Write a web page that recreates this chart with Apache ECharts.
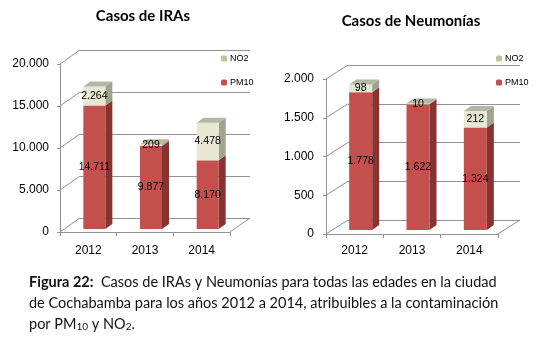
<!DOCTYPE html>
<html>
<head>
<meta charset="utf-8">
<title>Casos de IRAs y Neumonías</title>
<script src="https://cdn.jsdelivr.net/npm/echarts@6/dist/echarts.min.js"></script>
<style>
html, body { margin: 0; padding: 0; background: #fff; }
#grafico { width: 547px; height: 340px; }
</style>
</head>
<body>
<div id="grafico"></div>
<script>
// datos
var anios = ['2012', '2013', '2014'];
var irasPM10 = [14711, 9877, 8170];
var irasNO2 = [2264, 209, 4478];
var neuPM10 = [1778, 1622, 1324];
var neuNO2 = [98, 10, 212];
var irasTicks = [0, 5000, 10000, 15000, 20000];
var neuTicks = [0, 500, 1000, 1500, 2000];

var GRIS = '#929292';
var ROJO = '#c4504d', ROJO_LADO = '#863331';
var VERDE = '#e6e8d3', VERDE_LADO = '#a0a38f', VERDE_TAPA = '#b4b8a2';
var FUENTE = 'Liberation Sans';

// geometria de cada grafico (pared frontal, fondo y barras)
var izq = { left: 60, top: 64, width: 170, height: 168, fdx: 20, fdy: -14, bdx: 6, bdy: -3, bw: 22 };
var der = { left: 326, top: 79, width: 172, height: 155, fdx: 22, fdy: -14, bdx: 6, bdy: -4, bw: 23 };
var PROF_X = 7, PROF_Y = -5;

function puntos(n) {
  return String(n).replace(/\B(?=(\d{3})+(?!\d))/g, '.');
}

function barra(g, conTapa, cFrente, cLado, cTapa) {
  return function (params, api) {
    var i = api.value(0), base = api.value(1), v = api.value(2);
    var p0 = api.coord([i, base]);
    var p1 = api.coord([i, base + v]);
    var cx = p0[0] + g.bdx;
    var yb = p0[1] + g.bdy, yt = p1[1] + g.bdy;
    var x0 = cx - g.bw / 2, x1 = cx + g.bw / 2;
    var hijos = [
      { type: 'polygon', shape: { points: [[x1, yb], [x1, yt], [x1 + PROF_X, yt + PROF_Y], [x1 + PROF_X, yb + PROF_Y]] }, style: { fill: cLado } },
      { type: 'rect', shape: { x: x0, y: yt, width: g.bw, height: yb - yt }, style: { fill: cFrente } }
    ];
    if (conTapa) {
      hijos.push({ type: 'polygon', shape: { points: [[x0, yt], [x0 + PROF_X, yt + PROF_Y], [x1 + PROF_X, yt + PROF_Y], [x1, yt]] }, style: { fill: cTapa } });
    }
    hijos.push({
      type: 'text',
      style: {
        text: puntos(v), x: cx, y: (yt + yb) / 2,
        align: 'center', verticalAlign: 'middle', textAlign: 'center', textVerticalAlign: 'middle',
        font: '10.5px "' + FUENTE + '"', fill: '#000'
      }
    });
    return { type: 'group', children: hijos };
  };
}

// lineas diagonales de la pared lateral y del piso
function paredes(g, ticks) {
  return function (params, api) {
    var cs = params.coordSys;
    var hijos = [];
    ticks.forEach(function (t) {
      var y = api.coord([0, t])[1];
      hijos.push({ type: 'line', shape: { x1: cs.x, y1: y, x2: cs.x + g.fdx, y2: y + g.fdy }, style: { stroke: GRIS, lineWidth: 1 } });
    });
    var y0 = api.coord([0, 0])[1];
    hijos.push({ type: 'line', shape: { x1: cs.x + cs.width, y1: y0, x2: cs.x + cs.width + g.fdx, y2: y0 + g.fdy }, style: { stroke: GRIS, lineWidth: 1 } });
    return { type: 'group', children: hijos };
  };
}

function ejeXFrente(grid, margen) {
  return {
    type: 'category', gridIndex: grid, data: anios,
    axisLine: { show: true, lineStyle: { color: GRIS, width: 1 } },
    axisTick: { show: true, length: 4, lineStyle: { color: GRIS } },
    axisLabel: { margin: margen, color: '#000', fontSize: 12, fontFamily: FUENTE }
  };
}
function ejeXFondo(grid) {
  return { type: 'category', gridIndex: grid, data: anios, show: false };
}
function ejeYFrente(grid, ticks, margen) {
  return {
    type: 'value', gridIndex: grid, min: ticks[0], max: ticks[ticks.length - 1], interval: ticks[1] - ticks[0],
    axisLine: { show: true, lineStyle: { color: GRIS, width: 1 } },
    axisTick: { show: true, length: 3, lineStyle: { color: GRIS } },
    splitLine: { show: false },
    axisLabel: { margin: margen, color: '#000', fontSize: 12, fontFamily: FUENTE, formatter: puntos }
  };
}
function ejeYFondo(grid, ticks) {
  return {
    type: 'value', gridIndex: grid, min: ticks[0], max: ticks[ticks.length - 1], interval: ticks[1] - ticks[0],
    axisLine: { show: false }, axisTick: { show: false }, axisLabel: { show: false },
    splitLine: { show: true, lineStyle: { color: GRIS, width: 1 } }
  };
}

function datosBase(valores) {
  return valores.map(function (v, i) { return [i, 0, v]; });
}
function datosArriba(abajo, valores) {
  return valores.map(function (v, i) { return [i, abajo[i], v]; });
}

var leyenda = {
  orient: 'vertical', top: 49, itemWidth: 6, itemHeight: 6, itemGap: 15,
  data: ['NO2', 'PM10'], selectedMode: false,
  textStyle: { fontSize: 9, fontFamily: FUENTE, color: '#000', padding: [0, 0, 0, -2] }
};
var subRich = {
  b: { fontWeight: 'bold', fontSize: 14.5, fontFamily: 'Lato', fill: '#111' },
  s: { fontSize: 10, fontFamily: 'Lato', fill: '#111', verticalAlign: 'bottom' }
};

var option = {
  animation: false,
  backgroundColor: '#fff',
  grid: [
    { left: izq.left, top: izq.top, width: izq.width, height: izq.height },
    { left: izq.left + izq.fdx, top: izq.top + izq.fdy, width: izq.width, height: izq.height },
    { left: der.left, top: der.top, width: der.width, height: der.height },
    { left: der.left + der.fdx, top: der.top + der.fdy, width: der.width, height: der.height }
  ],
  xAxis: [ejeXFrente(0, 13), ejeXFondo(1), ejeXFrente(2, 11), ejeXFondo(3)],
  yAxis: [ejeYFrente(0, irasTicks, 11), ejeYFondo(1, irasTicks), ejeYFrente(2, neuTicks, 12), ejeYFondo(3, neuTicks)],
  legend: [
    Object.assign({}, leyenda, { left: 216 }),
    Object.assign({}, leyenda, { left: 491 })
  ],
  graphic: [
    { type: 'text', x: 143, y: 16, style: { text: 'Casos de IRAs', textAlign: 'center', textVerticalAlign: 'middle', font: 'bold 15px Lato', fill: '#000' } },
    { type: 'text', x: 411, y: 21, style: { text: 'Casos de Neumonías', textAlign: 'center', textVerticalAlign: 'middle', font: 'bold 15px Lato', fill: '#000' } },
    {
      type: 'text', x: 29, y: 282,
      style: {
        text: '{b|Figura 22:}  Casos de IRAs y Neumonías para todas las edades en la ciudad',
        textVerticalAlign: 'middle', font: '14.5px Lato', fill: '#111', rich: subRich
      }
    },
    { type: 'text', x: 29, y: 303, style: { text: 'de Cochabamba para los años 2012 a 2014, atribuibles a la contaminación', textVerticalAlign: 'middle', font: '14.5px Lato', fill: '#111' } },
    { type: 'text', x: 29, y: 324, style: { text: 'por PM{s|10} y NO{s|2}.', textVerticalAlign: 'middle', font: '14.5px Lato', fill: '#111', rich: subRich } }
  ],
  series: [
    { type: 'custom', name: 'pared1', xAxisIndex: 0, yAxisIndex: 0, silent: true, data: [[0, 0]], renderItem: paredes(izq, irasTicks), z: 1 },
    { type: 'custom', name: 'PM10', xAxisIndex: 0, yAxisIndex: 0, itemStyle: { color: ROJO }, data: datosBase(irasPM10), renderItem: barra(izq, false, ROJO, ROJO_LADO) },
    { type: 'custom', name: 'NO2', xAxisIndex: 0, yAxisIndex: 0, itemStyle: { color: '#b9c994' }, data: datosArriba(irasPM10, irasNO2), renderItem: barra(izq, true, VERDE, VERDE_LADO, VERDE_TAPA) },
    { type: 'custom', name: 'pared2', xAxisIndex: 2, yAxisIndex: 2, silent: true, data: [[0, 0]], renderItem: paredes(der, neuTicks), z: 1 },
    { type: 'custom', name: 'PM10', xAxisIndex: 2, yAxisIndex: 2, itemStyle: { color: ROJO }, data: datosBase(neuPM10), renderItem: barra(der, false, ROJO, ROJO_LADO) },
    { type: 'custom', name: 'NO2', xAxisIndex: 2, yAxisIndex: 2, itemStyle: { color: '#b9c994' }, data: datosArriba(neuPM10, neuNO2), renderItem: barra(der, true, VERDE, VERDE_LADO, VERDE_TAPA) }
  ]
};

var grafico = echarts.init(document.getElementById('grafico'));
grafico.setOption(option);
</script>
</body>
</html>
